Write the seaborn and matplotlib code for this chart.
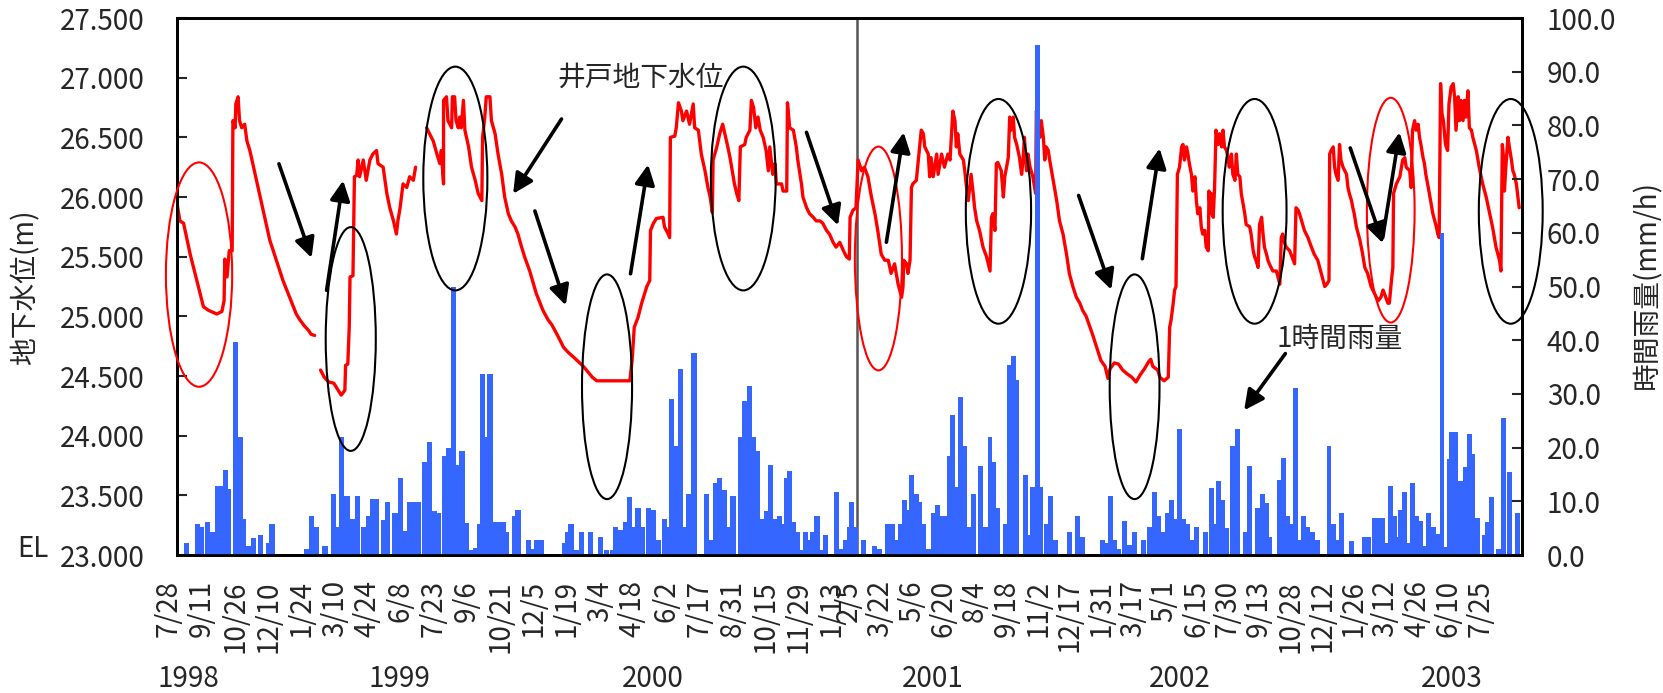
import numpy as np
import pandas as pd
import matplotlib
matplotlib.use("Agg")
import matplotlib.pyplot as plt
import matplotlib.transforms as mtransforms
from matplotlib.patches import Ellipse
import seaborn as sns

# ---------------------------------------------------------------------------
# Data (x = days elapsed since 1998-07-28)
# ---------------------------------------------------------------------------
BASE_DATE = pd.Timestamp("1998-07-28")
SPLIT_DATE = pd.Timestamp("2001-02-05")   # second record starts here
END_DAY = 1871

# Well groundwater level (m), three recorded stretches separated by gaps
GW_A_DAY = [0, 4, 9, 18, 27, 36, 43, 54, 61, 64, 65, 68, 71, 75, 76, 79, 80, 83, 85, 88,
            92, 95, 99, 108, 117, 126, 135, 144, 153, 162, 167, 173, 179, 182, 187]
GW_A_LEVEL = [25.95, 25.80, 25.78, 25.52, 25.30, 25.08, 25.05, 25.02, 25.04, 25.13, 25.48,
              25.33, 25.55, 25.55, 26.64, 26.58, 26.78, 26.84, 26.64, 26.58, 26.61, 26.47,
              26.39, 26.14, 25.89, 25.64, 25.47, 25.30, 25.16, 25.02, 24.97, 24.92, 24.88,
              24.85, 24.84]

GW_B_DAY = [195, 200, 206, 213, 220, 223, 228, 229, 232, 234, 235, 239, 241, 244, 246, 248,
            253, 257, 262, 266, 271, 273, 280, 285, 289, 294, 298, 300, 303, 307, 312, 316,
            321, 324]
GW_B_LEVEL = [24.55, 24.49, 24.45, 24.44, 24.37, 24.34, 24.38, 24.59, 24.60, 24.92, 25.33,
              25.34, 26.17, 26.18, 26.31, 26.17, 26.31, 26.14, 26.31, 26.36, 26.39, 26.28,
              26.25, 26.03, 25.91, 25.80, 25.69, 25.80, 25.91, 26.11, 26.08, 26.17, 26.14,
              26.25]

GW_C_DAY = [339, 343, 348, 353, 357, 359, 362, 362, 366, 368, 373, 374, 377, 379, 382, 384,
            386, 389, 391, 396, 400, 405, 409, 414, 415, 418, 420, 425, 427, 432, 436, 441,
            445, 450, 454, 459, 463, 468, 472, 479, 488, 497, 504, 509, 516, 525, 531, 540,
            552, 564, 570, 615, 618, 621, 626, 631, 638, 642, 643, 647, 651, 660, 662, 667,
            669, 670, 676, 678, 681, 685, 687, 692, 696, 701, 703, 708, 712, 717, 721, 724,
            727, 728, 733, 737, 741, 744, 748, 751, 754, 757, 760, 763, 765, 771, 773, 778,
            780, 783, 786, 789, 792, 796, 800, 803, 805, 809, 812, 814, 821, 823, 828, 829,
            832, 837, 841, 843, 846, 848, 850, 855, 859, 864, 868, 873, 877, 882, 886, 891,
            895, 900, 905, 909, 913, 914, 918, 922, 925, 930, 934, 939, 944, 949, 953, 958,
            963, 968, 972, 977, 982, 987, 989, 990, 994, 996, 999, 1001, 1003, 1008, 1013,
            1015, 1018, 1020, 1025, 1027, 1029, 1032, 1037, 1039, 1044, 1048, 1053, 1056,
            1060, 1063, 1065, 1067, 1070, 1075, 1077, 1079, 1082, 1084, 1086, 1089, 1091,
            1094, 1098, 1103, 1108, 1113, 1115, 1117, 1120, 1122, 1124, 1129, 1132, 1134,
            1139, 1141, 1143, 1146, 1148, 1151, 1155, 1158, 1160, 1162, 1165, 1167, 1170,
            1174, 1178, 1179, 1181, 1184, 1186, 1189, 1191, 1193, 1196, 1198, 1203, 1208,
            1212, 1217, 1222, 1226, 1231, 1236, 1241, 1245, 1250, 1259, 1265, 1271, 1277,
            1281, 1284, 1290, 1296, 1302, 1308, 1315, 1321, 1327, 1333, 1339, 1342, 1345,
            1352, 1355, 1361, 1367, 1369, 1371, 1374, 1376, 1378, 1380, 1383, 1386, 1388,
            1390, 1393, 1395, 1397, 1400, 1402, 1405, 1407, 1409, 1412, 1414, 1416, 1419,
            1421, 1424, 1425, 1427, 1428, 1431, 1433, 1435, 1438, 1440, 1443, 1445, 1447,
            1450, 1452, 1454, 1457, 1459, 1462, 1464, 1466, 1469, 1471, 1476, 1478, 1483,
            1485, 1488, 1490, 1492, 1495, 1497, 1500, 1502, 1504, 1507, 1509, 1511, 1516,
            1521, 1526, 1528, 1530, 1533, 1535, 1540, 1545, 1547, 1549, 1552, 1554, 1557,
            1561, 1566, 1571, 1575, 1580, 1585, 1590, 1593, 1596, 1597, 1599, 1602, 1604,
            1606, 1609, 1611, 1613, 1616, 1621, 1623, 1625, 1628, 1630, 1632, 1635, 1640,
            1644, 1647, 1651, 1656, 1661, 1666, 1670, 1673, 1675, 1680, 1682, 1685, 1687,
            1688, 1692, 1697, 1701, 1704, 1706, 1711, 1713, 1715, 1718, 1720, 1723, 1725,
            1727, 1730, 1732, 1734, 1739, 1744, 1749, 1751, 1753, 1755, 1757, 1759, 1762,
            1765, 1767, 1770, 1773, 1775, 1777, 1780, 1782, 1784, 1787, 1789, 1791, 1794,
            1796, 1799, 1801, 1806, 1810, 1815, 1820, 1825, 1829, 1834, 1839, 1841, 1843,
            1845, 1846, 1848, 1851, 1853, 1856, 1858, 1860, 1863, 1867]
GW_C_LEVEL = [26.58, 26.53, 26.47, 26.36, 26.28, 26.39, 26.11, 26.81, 26.84, 26.64, 26.58,
              26.84, 26.84, 26.64, 26.58, 26.67, 26.58, 26.81, 26.56, 26.42, 26.25, 26.14,
              26.03, 25.97, 26.50, 26.67, 26.84, 26.84, 26.64, 26.53, 26.36, 26.19, 26.00,
              25.86, 25.80, 25.75, 25.69, 25.58, 25.50, 25.38, 25.19, 25.05, 24.97, 24.93,
              24.85, 24.74, 24.70, 24.65, 24.58, 24.49, 24.46, 24.46, 24.63, 24.91, 24.99,
              25.11, 25.25, 25.30, 25.72, 25.78, 25.82, 25.83, 25.75, 25.69, 25.66, 26.50,
              26.51, 26.58, 26.79, 26.72, 26.64, 26.72, 26.61, 26.78, 26.58, 26.56, 26.36,
              26.22, 26.08, 26.00, 25.87, 26.31, 26.42, 26.53, 26.61, 26.53, 26.42, 26.33,
              26.22, 26.11, 26.03, 25.97, 26.42, 26.44, 26.50, 26.56, 26.81, 26.75, 26.58,
              26.67, 26.56, 26.50, 26.39, 26.22, 26.42, 26.19, 26.28, 26.11, 26.11, 26.05,
              26.05, 26.79, 26.58, 26.56, 26.42, 26.31, 26.19, 26.11, 26.00, 25.91, 25.86,
              25.83, 25.80, 25.80, 25.78, 25.72, 25.69, 25.62, 25.58, 25.62, 25.55, 25.50,
              25.48, 25.83, 25.89, 25.91, 26.31, 26.22, 26.25, 26.17, 26.00, 25.86, 25.72,
              25.52, 25.47, 25.47, 25.36, 25.44, 25.27, 25.16, 25.25, 25.47, 25.44, 25.36,
              25.47, 26.08, 26.11, 26.14, 26.44, 26.56, 26.53, 26.42, 26.36, 26.17, 26.33,
              26.17, 26.36, 26.19, 26.36, 26.25, 26.36, 26.31, 26.72, 26.64, 26.42, 26.53,
              26.36, 26.31, 26.22, 26.11, 25.97, 26.08, 26.19, 26.03, 25.91, 25.80, 25.72,
              25.58, 25.50, 25.38, 25.83, 25.86, 25.72, 26.28, 26.29, 26.22, 26.00, 26.17,
              26.33, 26.67, 26.56, 26.67, 26.50, 26.44, 26.33, 26.19, 26.31, 26.50, 26.22,
              26.36, 26.25, 26.17, 26.03, 26.72, 26.67, 26.50, 26.64, 26.50, 26.31, 26.42,
              26.39, 26.31, 26.14, 25.97, 25.80, 25.69, 25.52, 25.36, 25.25, 25.16, 25.11,
              25.05, 25.00, 24.85, 24.74, 24.63, 24.58, 24.48, 24.56, 24.61, 24.60, 24.55,
              24.52, 24.49, 24.45, 24.51, 24.56, 24.62, 24.64, 24.58, 24.55, 24.49, 24.46,
              24.49, 24.91, 24.97, 25.11, 25.22, 25.25, 26.19, 26.25, 26.42, 26.44, 26.31,
              26.42, 26.36, 26.28, 26.19, 26.05, 26.17, 25.97, 25.86, 25.91, 25.75, 25.69,
              25.72, 25.58, 25.55, 26.05, 25.86, 26.03, 25.83, 26.08, 26.56, 26.44, 26.53,
              26.42, 26.56, 26.42, 26.39, 26.33, 26.25, 26.36, 26.19, 26.14, 26.36, 26.19,
              26.17, 26.03, 25.86, 25.77, 25.75, 25.69, 25.55, 25.50, 25.47, 25.41, 25.77,
              25.83, 25.69, 25.58, 25.52, 25.47, 25.44, 25.38, 25.38, 25.27, 25.66, 25.69,
              25.61, 25.58, 25.55, 25.47, 25.44, 25.91, 25.89, 25.86, 25.80, 25.72, 25.66,
              25.58, 25.52, 25.47, 25.36, 25.25, 25.27, 25.30, 26.36, 26.39, 26.42, 26.25,
              26.19, 26.14, 26.44, 26.31, 26.25, 26.19, 26.08, 26.03, 25.97, 25.91, 25.86,
              25.75, 25.64, 25.52, 25.41, 25.36, 25.25, 25.19, 25.13, 25.16, 25.22, 25.19,
              25.11, 25.11, 25.30, 25.41, 26.03, 26.11, 26.17, 26.31, 26.33, 26.25, 26.22,
              26.08, 26.56, 26.64, 26.56, 26.61, 26.50, 26.44, 26.33, 26.28, 26.19, 26.03,
              25.86, 25.75, 25.69, 25.66, 26.95, 26.70, 26.64, 26.44, 26.39, 26.78, 26.92,
              26.95, 26.84, 26.56, 26.84, 26.64, 26.81, 26.64, 26.81, 26.67, 26.89, 26.58,
              26.56, 26.50, 26.39, 26.25, 26.11, 26.00, 25.86, 25.75, 25.58, 25.47, 25.38,
              26.44, 26.31, 26.05, 26.25, 26.50, 26.42, 26.31, 26.22, 26.19, 26.11, 25.91]

# Hourly rainfall (mm/h)
RAIN_DAY = [13, 28, 33, 42, 49, 55, 61, 66, 70, 79, 86, 90, 97, 104, 114, 124, 129, 176, 183,
            190, 201, 213, 218, 224, 231, 238, 245, 253, 260, 266, 271, 281, 286, 296, 303,
            310, 316, 322, 328, 336, 343, 349, 355, 363, 369, 375, 381, 387, 393, 400, 406,
            411, 415, 420, 425, 431, 437, 443, 448, 458, 463, 477, 483, 489, 495, 526, 531,
            535, 542, 549, 561, 575, 583, 592, 596, 603, 609, 614, 619, 626, 632, 640, 647,
            654, 662, 667, 672, 678, 684, 689, 695, 702, 719, 725, 731, 737, 743, 748, 755,
            766, 771, 777, 783, 788, 794, 800, 806, 812, 818, 823, 828, 832, 837, 842, 848,
            853, 858, 863, 869, 875, 881, 896, 903, 908, 914,
            916, 922, 933, 948, 955, 967, 974, 981, 986, 991, 996, 1001, 1008, 1013, 1018,
            1025, 1032, 1038, 1043, 1049, 1055, 1060, 1065, 1071, 1077, 1083, 1090, 1100,
            1106, 1113, 1118, 1124, 1135, 1141, 1146, 1151, 1163, 1169, 1174, 1180, 1185,
            1193, 1199, 1206, 1226, 1237, 1245, 1273, 1280, 1285, 1290, 1296, 1304, 1312,
            1319, 1332, 1340, 1347, 1353, 1360, 1366, 1372, 1378, 1383, 1389, 1395, 1401,
            1407, 1420, 1428, 1434, 1439, 1444, 1450, 1458, 1465, 1477, 1483, 1494, 1501,
            1507, 1512, 1525, 1531, 1537, 1543, 1548, 1554, 1560, 1566, 1573, 1580, 1596,
            1602, 1608, 1614, 1628, 1646, 1653, 1661, 1667, 1672, 1678, 1684, 1689, 1694,
            1698, 1703, 1709, 1715, 1721, 1727, 1732, 1738, 1745, 1751, 1757, 1763, 1767,
            1771, 1777, 1782, 1787, 1791, 1796, 1801, 1807, 1818, 1822, 1827, 1838, 1845,
            1853, 1864]
RAIN_MM = [2.2, 5.8, 5.3, 6.2, 4.3, 12.9, 12.9, 15.9, 12.3, 39.7, 22.0, 6.7, 1.7, 3.1, 3.7,
           2.2, 5.7, 1.2, 7.3, 5.3, 1.7, 11.4, 5.3, 22.0, 10.9, 6.7, 10.9, 5.3, 7.3, 10.4,
           10.4, 6.5, 9.8, 7.8, 14.4, 4.4, 9.9, 9.9, 9.9, 17.4, 21.0, 8.2, 7.8, 18.5, 19.9,
           50.0, 16.8, 19.4, 5.9, 1.0, 1.3, 5.8, 33.7, 22.0, 33.7, 6.2, 6.2, 6.2, 4.3, 7.2,
           8.3, 2.8, 1.2, 2.8, 2.8, 2.2, 4.3, 5.8, 1.0, 4.3, 4.3, 3.3, 1.0, 1.0, 5.3, 4.7,
           6.2, 10.8, 5.3, 8.7, 5.3, 8.7, 8.3, 2.8, 6.7, 5.3, 29.0, 20.3, 34.6, 5.3, 11.3,
           37.6, 11.4, 2.8, 13.4, 14.3, 12.1, 5.3, 10.9, 22.0, 28.6, 31.5, 22.0, 19.4, 6.7,
           8.2, 16.8, 6.7, 7.2, 5.8, 14.3, 15.7, 6.2, 4.3, 1.0, 4.3, 2.8, 4.3, 7.2, 1.0, 3.7,
           11.8, 1.2, 2.8, 5.3,
           9.8, 5.3, 2.8, 1.7, 1.2, 5.8, 5.8, 2.8, 5.8, 10.3, 8.3, 14.9, 11.4, 9.8, 5.8, 1.2,
           7.8, 9.3, 7.3, 7.3, 18.5, 26.0, 12.6, 29.5, 20.3, 5.3, 11.4, 16.5, 5.3, 22.0,
           17.4, 8.7, 5.8, 35.4, 37.1, 32.5, 14.9, 3.7, 12.7, 95.0, 12.7, 5.8, 10.9, 2.8,
           4.3, 7.3, 3.3, 2.8, 2.3, 10.9, 2.8, 1.2, 6.3, 1.9, 4.3, 2.8, 5.3, 11.8, 7.3, 4.3,
           7.8, 10.3, 6.7, 23.4, 6.7, 5.8, 2.8, 5.3, 4.3, 12.4, 5.8, 13.8, 10.3, 5.0, 20.3,
           23.4, 4.3, 16.5, 8.7, 11.4, 9.6, 3.4, 14.0, 18.0, 7.2, 5.8, 31.1, 2.8, 7.3, 5.3,
           4.3, 2.8, 20.3, 5.8, 2.8, 7.8, 2.7, 3.4, 3.4, 6.9, 6.9, 6.9, 2.3, 12.9, 7.3, 3.3,
           8.3, 11.8, 2.3, 13.4, 7.3, 6.3, 1.7, 7.8, 5.3, 3.9, 60.0, 1.5, 17.9, 23.0, 23.0,
           13.8, 13.8, 16.4, 22.6, 18.9, 6.9, 3.8, 6.2, 10.8, 1.2, 25.5, 15.4, 7.8]

YEAR_LABELS = ["1998", "1999", "2000", "2001", "2002", "2003"]
YEAR_LABEL_DAY = [15, 302, 646, 1031, 1383, 1771]

# ---------------------------------------------------------------------------
# Tick positions: every 45 days within each of the two records
# ---------------------------------------------------------------------------
split_day = (SPLIT_DATE - BASE_DATE).days
tick_dates = list(pd.date_range(BASE_DATE, SPLIT_DATE - pd.Timedelta(days=1), freq="45D")) + \
             list(pd.date_range(SPLIT_DATE, BASE_DATE + pd.Timedelta(days=END_DAY - 30), freq="45D"))
tick_days = [(d - BASE_DATE).days for d in tick_dates]
tick_text = [f"{d.month}/{d.day}" for d in tick_dates]

# ---------------------------------------------------------------------------
# Style
# ---------------------------------------------------------------------------
sns.set_style("white")
plt.rcParams["font.family"] = ["Noto Sans CJK JP", "DejaVu Sans"]
plt.rcParams["font.size"] = 20
FS = 20

RED = "#FF0000"
BLUE = "#3566FF"

fig = plt.figure(figsize=(16.63, 6.93), dpi=100)
ax = fig.add_axes([0.1064, 0.1991, 0.8088, 0.7749])
ax2 = ax.twinx()

# Two records share one axis; the second one is drawn slightly compressed
ratio = 0.9529


def fwd(d):
    d = np.asarray(d, dtype=float)
    return np.where(d <= split_day, d, split_day + (d - split_day) * ratio)


def inv(s):
    s = np.asarray(s, dtype=float)
    return np.where(s <= split_day, s, split_day + (s - split_day) / ratio)


# groundwater line
gw = pd.concat([
    pd.DataFrame({"day": GW_A_DAY, "level": GW_A_LEVEL, "piece": 0}),
    pd.DataFrame({"day": GW_B_DAY, "level": GW_B_LEVEL, "piece": 1}),
    pd.DataFrame({"day": GW_C_DAY, "level": GW_C_LEVEL, "piece": 2}),
], ignore_index=True)
sns.lineplot(data=gw, x="day", y="level", units="piece", estimator=None, sort=False,
             color=RED, linewidth=2.4, ax=ax, legend=False)

# rainfall bars on the secondary axis
ax2.bar(RAIN_DAY, RAIN_MM, width=7, color=BLUE, linewidth=0, align="center")

ax.set_xscale("function", functions=(fwd, inv))
ax.set_xlim(0, END_DAY)
ax.set_ylim(23.0, 27.5)
ax2.set_ylim(0, 100)

ax.set_xlabel("")
ax.set_ylabel("")
ax2.set_ylabel("")

ax.set_yticks(np.arange(23.0, 27.51, 0.5))
ax.set_yticklabels([f"{v:.3f}" for v in np.arange(23.0, 27.51, 0.5)], fontsize=FS)
ax2.set_yticks(np.arange(0, 100.1, 10))
ax2.set_yticklabels([f"{v:.1f}" for v in np.arange(0, 100.1, 10)], fontsize=FS)

ax.set_xticks(tick_days)
ax.set_xticklabels(tick_text, rotation=90, va="top", ha="center", fontsize=FS)
ax.minorticks_off()
ax.tick_params(axis="x", which="both", length=0, pad=18)
ax.tick_params(axis="y", direction="in", length=7, width=1.5, pad=23)
ax2.tick_params(axis="y", direction="in", length=7, width=1.5, pad=18)
ax2.tick_params(axis="x", which="both", length=0)

for a in (ax, ax2):
    for s in a.spines.values():
        s.set_visible(True)
        s.set_color("black")
        s.set_linewidth(2)

# boundary between the two records
ax.axvline(split_day, color="#555555", linewidth=1.8, zorder=1)

# shift the rotated date labels slightly left of their positions
shift = mtransforms.ScaledTranslation(-8 / 100, 0, fig.dpi_scale_trans)
for lab in ax.get_xticklabels():
    lab.set_transform(lab.get_transform() + shift)

# year labels under the dates
for day, txt in zip(YEAR_LABEL_DAY, YEAR_LABELS):
    ax.text(day, -0.231, txt, transform=ax.get_xaxis_transform(), ha="center", va="center",
            fontsize=FS)

# ---------------------------------------------------------------------------
# Annotations (in groundwater-level coordinates)
# ---------------------------------------------------------------------------
ELLIPSES = [  # (center day, center level, width days, height m, colour)
    (30, 25.35, 90, 1.88, RED),
    (236, 24.81, 68, 1.875, "black"),
    (378, 26.155, 87, 1.875, "black"),
    (584, 24.41, 68, 1.883, "black"),
    (769, 26.155, 88, 1.875, "black"),
    (954, 25.485, 67, 1.875, RED),
    (1125, 25.88, 93, 1.883, "black"),
    (1319, 24.41, 71, 1.883, "black"),
    (1490, 25.88, 91, 1.883, "black"),
    (1684, 25.89, 68, 1.883, RED),
    (1855, 25.88, 91, 1.883, "black"),
]
for cx, cy, w, h, col in ELLIPSES:
    e = Ellipse((cx, cy), w, h, fill=False, edgecolor=col, linewidth=1.5,
                transform=ax.transData, clip_on=False, zorder=5)
    ax2.add_patch(e)

ARROWS = [  # (tail day, tail level, head day, head level)
    (138.5, 26.278, 182.8, 25.49),
    (203.2, 25.218, 225.7, 26.138),
    (522.2, 26.654, 456.5, 26.027),
    (486.0, 25.883, 528.0, 25.092),
    (615.9, 25.357, 639.8, 26.272),
    (854.8, 26.542, 897.7, 25.762),
    (965.3, 25.621, 990.0, 26.542),
    (1239.2, 26.013, 1285.8, 25.223),
    (1330.0, 25.483, 1354.6, 26.408),
    (1626.3, 26.411, 1672.7, 25.613),
    (1672.7, 25.663, 1696.5, 26.542),
    (1533.8, 24.688, 1475.1, 24.213),
]
for x0, y0, x1, y1 in ARROWS:
    ax2.annotate("", xy=(x1, y1), xytext=(x0, y0), xycoords=ax.transData,
                 textcoords=ax.transData, annotation_clip=False,
                 arrowprops=dict(arrowstyle="-|>,head_length=0.6,head_width=0.3",
                                 color="black", lw=2.6, mutation_scale=20,
                                 shrinkA=0, shrinkB=0), zorder=6)

ax2.text(517, 26.996, "井戸地下水位", transform=ax.transData, ha="left", va="center",
         fontsize=FS, zorder=7)
ax2.text(1521, 24.807, "1時間雨量", transform=ax.transData, ha="left", va="center",
         fontsize=FS, zorder=7)

# axis titles and the elevation marker
fig.text(25 / 1663, 1 - 287.5 / 693, "地下水位(m)", rotation=90, ha="center", va="center",
         fontsize=FS)
fig.text(1647 / 1663, 1 - 285 / 693, "時間雨量(mm/h)", rotation=90, ha="center", va="center",
         fontsize=FS)
fig.text(33 / 1663, 1 - 549 / 693, "EL", ha="center", va="center", fontsize=FS)

fig.savefig("out.png", dpi=100)
